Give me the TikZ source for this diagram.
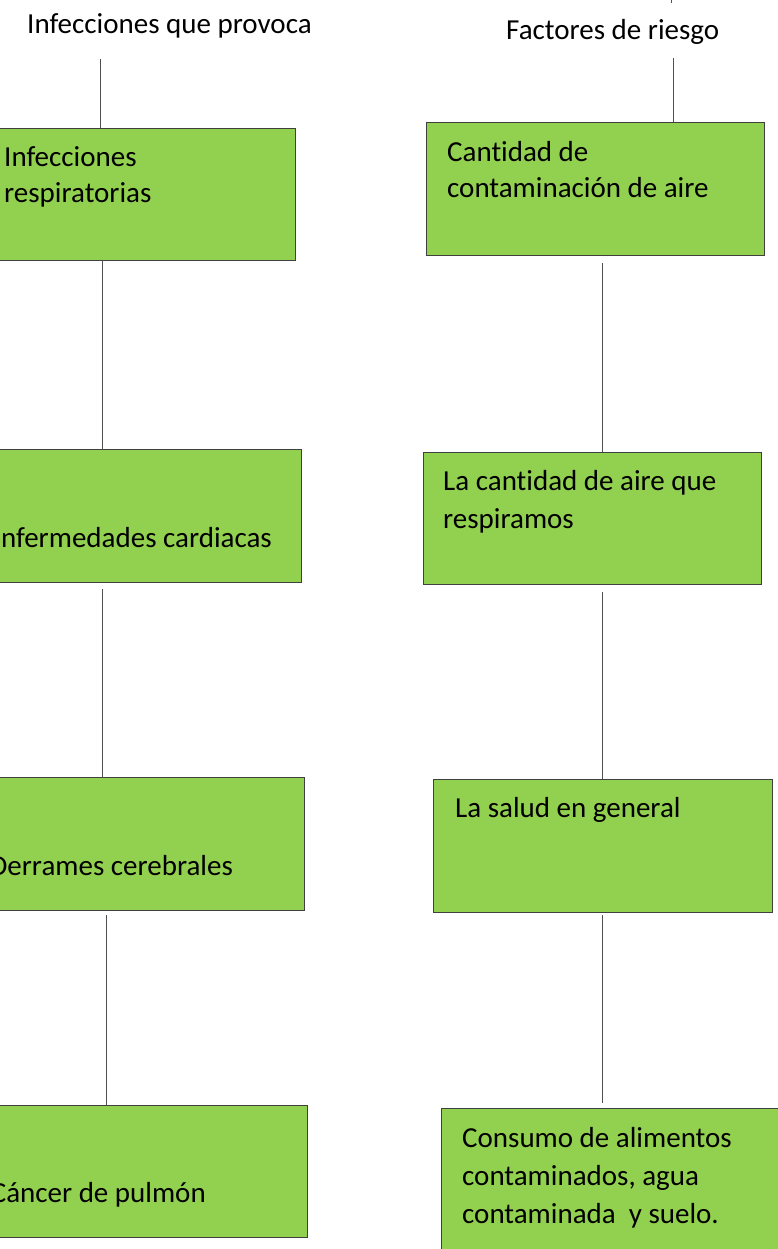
\documentclass[tikz,border=0pt]{standalone}
\usepackage{fontspec}
\setmainfont[Ligatures={NoCommon}]{Carlito}
\definecolor{boxgreen}{HTML}{92D050}
\definecolor{edge}{HTML}{404040}
\definecolor{wire}{HTML}{505050}
\tikzset{
  box/.style={draw=edge, line width=0.9pt, fill=boxgreen, rectangle, inner sep=0pt, outer sep=0pt, anchor=north west},
  txtw/.style={anchor=base west, inner sep=0pt, font=\fontsize{29}{36}\selectfont},
  txte/.style={anchor=base east, inner sep=0pt, font=\fontsize{29}{36}\selectfont},
  wireline/.style={draw=wire, line width=0.9pt}
}
\begin{document}
\begin{tikzpicture}[x=1pt,y=-1pt]
\useasboundingbox (0,0) rectangle (778,1249);
\clip (0,0) rectangle (778,1249);
% titles
\node[txtw] (t1) at (27,34) {Infecciones que provoca};
\node[txtw] (t2) at (506,40) {Factores de riesgo};
% left column boxes
\node[box, minimum width=315pt, minimum height=132pt] (b1) at (-20,128) {};
\node[box, minimum width=321pt, minimum height=133pt] (b2) at (-20,449) {};
\node[box, minimum width=324pt, minimum height=133pt] (b3) at (-20,777) {};
\node[box, minimum width=327pt, minimum height=132pt] (b4) at (-20,1105) {};
% right column boxes
\node[box, minimum width=338pt, minimum height=133pt] (bA) at (426,122) {};
\node[box, minimum width=338pt, minimum height=132pt] (bB) at (423,452) {};
\node[box, minimum width=339pt, minimum height=133pt] (bC) at (433,779) {};
\node[box, minimum width=360pt, minimum height=170pt] (bD) at (441,1108) {};
% texts left
\node[txtw] (x1a) at (4,167) {Infecciones};
\node[txtw] (x1b) at (4,203) {respiratorias};
\node[txte] (x2) at (272,547) {Enfermedades cardiacas};
\node[txte] (x3) at (233,875) {Derrames cerebrales};
\node[txte] (x4) at (206,1202) {Cáncer de pulmón};
% texts right
\node[txtw] (xAa) at (447,162) {Cantidad de};
\node[txtw] (xAb) at (447,198) {contaminación de aire};
\node[txtw] (xBa) at (443,490) {La cantidad de aire que};
\node[txtw] (xBb) at (443,528) {respiramos};
\node[txtw] (xC) at (455,817) {La salud en general};
\node[txtw] (xDa) at (462,1147) {Consumo de alimentos};
\node[txtw] (xDb) at (462,1185) {contaminados, agua};
\node[txtw] (xDc) at (462,1223) {contaminada\ \ y suelo.};
% connector end points
\coordinate (c0) at (100,59);
\coordinate (c1) at (102,0);
\coordinate (c2) at (102,589);
\coordinate (c3) at (106,915);
\coordinate (d0) at (673,58);
\coordinate (d1) at (602,263);
\coordinate (d2) at (602,592);
\coordinate (d3) at (602,915);
\coordinate (d3e) at (602,1103);
\coordinate (m0) at (671,-5);
\coordinate (m1) at (671,3);
% connectors
\draw[wireline] (c0) -- (c0 |- b1.north);
\draw[wireline] (b1.south -| c1) -- (b2.north -| c1);
\draw[wireline] (c2) -- (c2 |- b3.north);
\draw[wireline] (c3) -- (c3 |- b4.north);
\draw[wireline] (d0) -- (d0 |- bA.north);
\draw[wireline] (d1) -- (d1 |- bB.north);
\draw[wireline] (d2) -- (d2 |- bC.north);
\draw[wireline] (d3) -- (d3e);
\draw[wireline] (m0) -- (m1);
\end{tikzpicture}
\end{document}
